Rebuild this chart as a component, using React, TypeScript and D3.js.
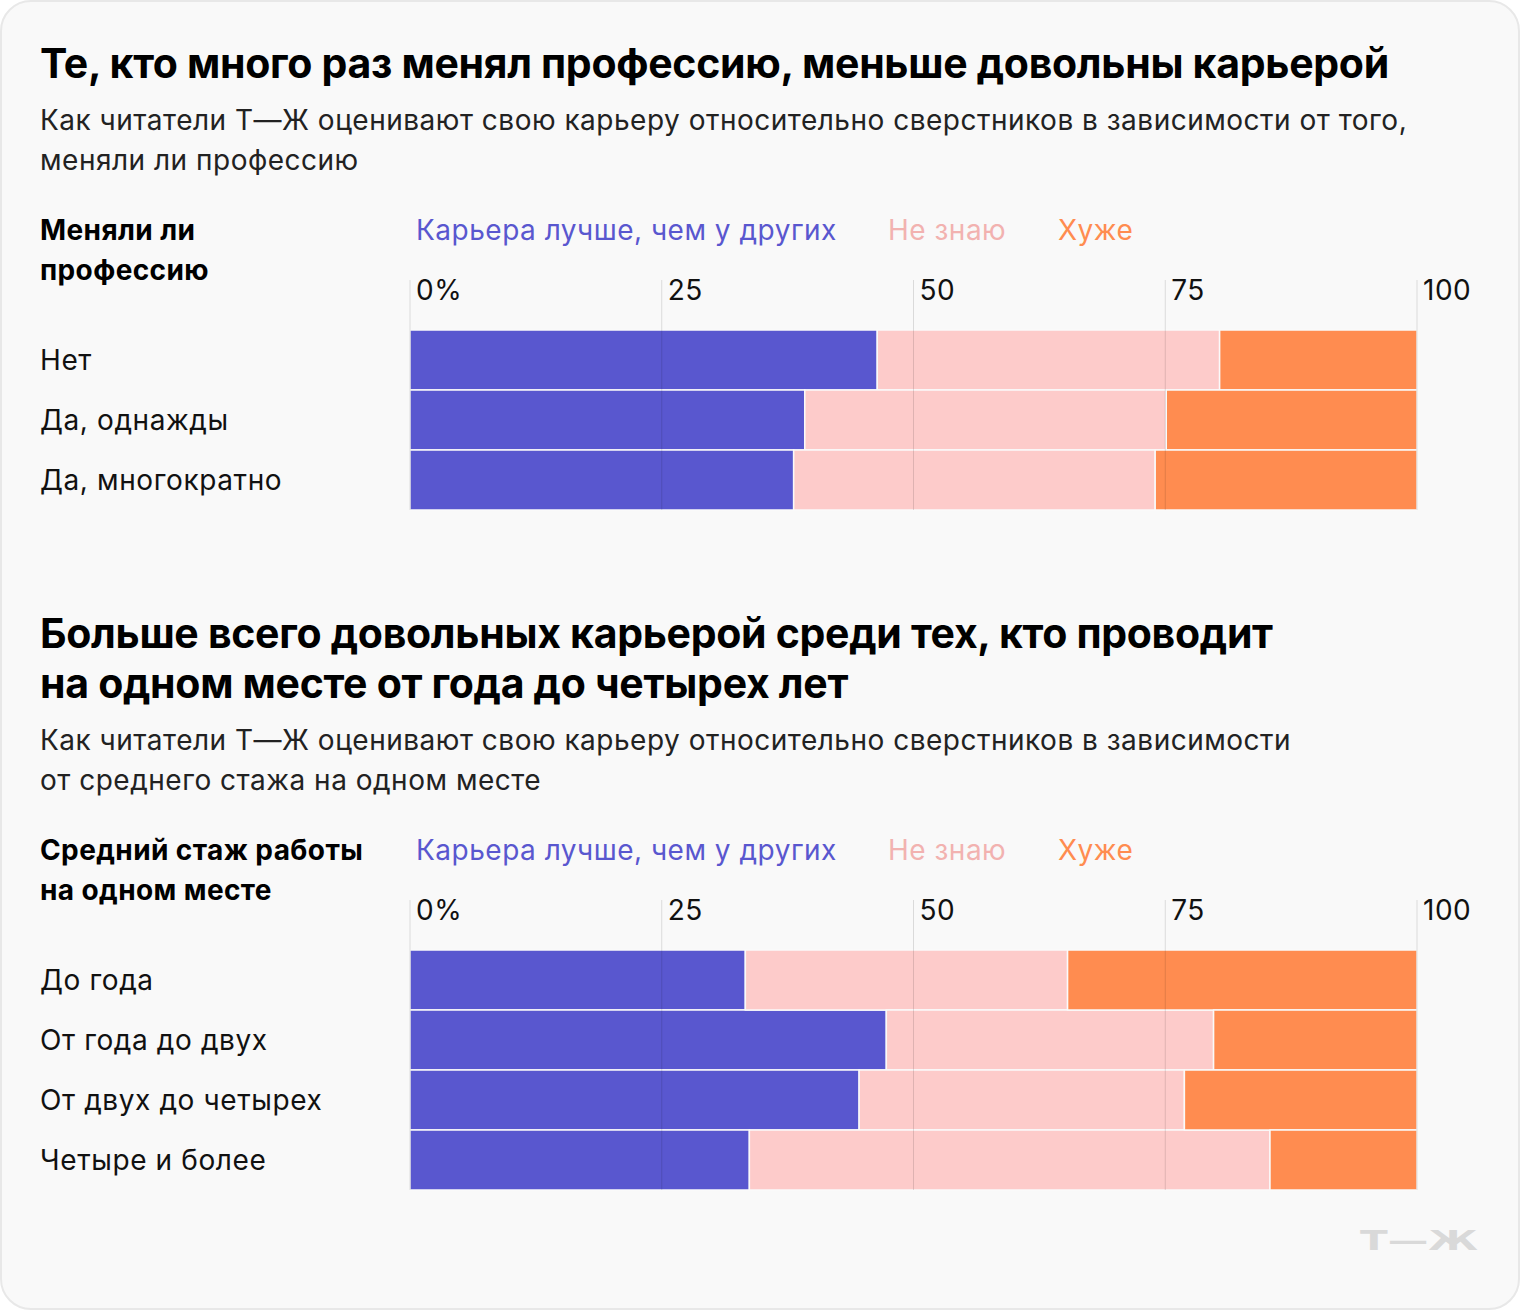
import React from "react";
import * as d3 from "d3";

const seriesKeys = ["better", "unknown", "worse"];
const seriesLabels = ["Карьера лучше, чем у других", "Не знаю", "Хуже"];
const seriesColors = ["#5957cf", "#fdcbca", "#ff8c50"];
const legendColors = ["#5957cf", "#f2b2b0", "#ff8c50"];
const tickValues = [0, 25, 50, 75, 100];
const tickLabels = ["0%", "25", "50", "75", "100"];

const chart1Categories = ["Нет", "Да, однажды", "Да, многократно"];
const chart1Better = [46.4, 39.2, 38.1];
const chart1Unknown = [34.0, 35.9, 35.9];
const chart1Worse = [19.6, 24.9, 26.0];

const chart2Categories = ["До года", "От года до двух", "От двух до четырех", "Четыре и более"];
const chart2Better = [33.3, 47.3, 44.6, 33.7];
const chart2Unknown = [32.0, 32.5, 32.3, 51.7];
const chart2Worse = [34.7, 20.2, 23.1, 14.6];

const FONT = "Inter, 'Noto Sans', sans-serif";

type BlockProps = {
  top: number;
  title: string[];
  subtitle: string[];
  header: string[];
  categories: string[];
  better: number[];
  unknown: number[];
  worse: number[];
};

const x = d3.scaleLinear().domain([0, 100]).range([410, 1417]);

function Block({ top, title, subtitle, header, categories, better, unknown, worse }: BlockProps) {
  const rows = categories.map((c, i) => ({ cat: c, better: better[i], unknown: unknown[i], worse: worse[i] }));
  const stack = d3.stack<any>().keys(seriesKeys)(rows);
  const titleLH = 50;
  const titleEnd = top + (title.length - 1) * titleLH;
  const subTop = titleEnd + 52;
  const subEnd = subTop + (subtitle.length - 1) * 40;
  const legendY = subEnd + 70;
  const tickY = legendY + 60;
  const barTop = tickY + 30;
  const y = d3.scaleBand().domain(categories).range([barTop, barTop + categories.length * 60]).paddingInner(0);
  const legendX = [416, 888, 1058];
  return (
    <g>
      {title.map((t, i) => (
        <text key={i} x={40} y={top + i * titleLH} fontFamily={FONT} fontWeight={700} fontSize={41} fill="#000" letterSpacing={-0.3}>
          {t}
        </text>
      ))}
      {subtitle.map((t, i) => (
        <text key={i} x={40} y={subTop + i * 40} fontFamily={FONT} fontSize={28} fill="#222" letterSpacing={0.5}>
          {t}
        </text>
      ))}
      {header.map((t, i) => (
        <text key={i} x={40} y={legendY + i * 40} fontFamily={FONT} fontWeight={700} fontSize={28} fill="#000" letterSpacing={0.4}>
          {t}
        </text>
      ))}
      {seriesLabels.map((t, i) => (
        <text key={i} x={legendX[i]} y={legendY} fontFamily={FONT} fontSize={28} fill={legendColors[i]} letterSpacing={0.5}>
          {t}
        </text>
      ))}
      {stack.map((s, si) =>
        s.map((d: any, i: number) => (
          <rect
            key={si + "-" + i}
            x={x(d[0])}
            y={y(categories[i])!}
            width={x(d[1]) - x(d[0])}
            height={y.bandwidth()}
            fill={seriesColors[si]}
            stroke="#fafafa"
            strokeWidth={1.5}
          />
        ))
      )}
      {tickValues.map((v, i) => (
        <g key={v}>
          <line x1={x(v)} x2={x(v)} y1={tickY - 20} y2={barTop + categories.length * 60} stroke="#000" strokeOpacity={0.12} strokeWidth={1} />
          <text x={x(v) + 6} y={tickY} fontFamily={FONT} fontSize={28} fill="#111" letterSpacing={0.5}>
            {tickLabels[i]}
          </text>
        </g>
      ))}
      {categories.map((c) => (
        <text key={c} x={40} y={y(c)! + 40} fontFamily={FONT} fontSize={28} fill="#111" letterSpacing={0.6}>
          {c}
        </text>
      ))}
    </g>
  );
}

export default function App() {
  return (
    <svg width={1520} height={1310} style={{ position: "absolute", left: 0, top: 0 }}>
      <rect x={0} y={0} width={1520} height={1310} fill="#ffffff" />
      <rect x={1} y={1} width={1518} height={1308} rx={30} ry={30} fill="#f9f9f9" stroke="#e8e8e8" strokeWidth={2} />
      <Block
        top={78}
        title={["Те, кто много раз менял профессию, меньше довольны карьерой"]}
        subtitle={[
          "Как читатели Т—Ж оценивают свою карьеру относительно сверстников в зависимости от того,",
          "меняли ли профессию",
        ]}
        header={["Меняли ли", "профессию"]}
        categories={chart1Categories}
        better={chart1Better}
        unknown={chart1Unknown}
        worse={chart1Worse}
      />
      <Block
        top={648}
        title={["Больше всего довольных карьерой среди тех, кто проводит", "на одном месте от года до четырех лет"]}
        subtitle={[
          "Как читатели Т—Ж оценивают свою карьеру относительно сверстников в зависимости",
          "от среднего стажа на одном месте",
        ]}
        header={["Средний стаж работы", "на одном месте"]}
        categories={chart2Categories}
        better={chart2Better}
        unknown={chart2Unknown}
        worse={chart2Worse}
      />
      <text x={1360} y={1250} fontFamily="'DejaVu Sans', sans-serif" fontWeight={700} fontSize={27} fill="#d9d9d9" textLength={118} lengthAdjust="spacingAndGlyphs">
        Т—Ж
      </text>
    </svg>
  );
}
